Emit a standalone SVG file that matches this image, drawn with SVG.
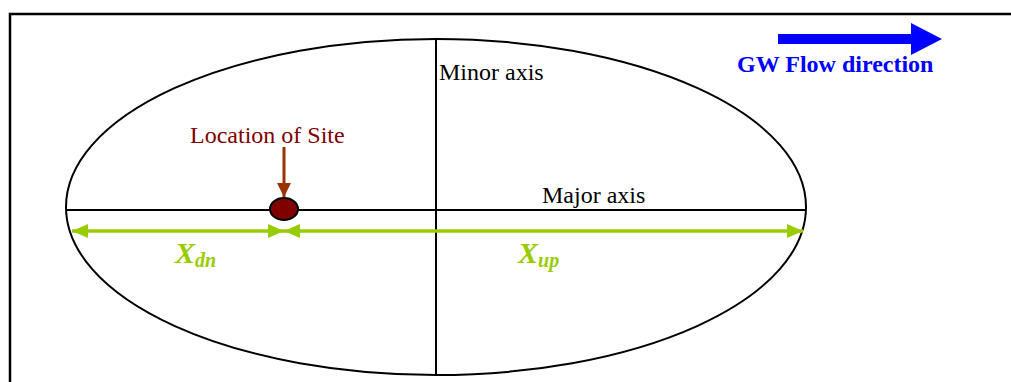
<svg xmlns="http://www.w3.org/2000/svg" width="1011" height="382" viewBox="0 0 1011 382">
<style>
.t{font-family:"Liberation Serif","Times New Roman",serif;font-size:24px;fill:#000}
.site{font-family:"Liberation Serif","Times New Roman",serif;font-size:24px;fill:#800000}
.gw{font-family:"Liberation Serif","Times New Roman",serif;font-size:24px;font-weight:bold;fill:#0000ff}
.lbl{font-family:"Liberation Serif","Times New Roman",serif;font-weight:bold;font-style:italic;fill:#99cc00}
.ax{stroke:#000;stroke-width:2;fill:none}
.dim{stroke:#99cc00;stroke-width:3.5;fill:none}
</style>
<defs>
<marker id="g" viewBox="0 0 16 14" refX="16" refY="7" markerWidth="16" markerHeight="14" markerUnits="userSpaceOnUse" orient="auto-start-reverse"><path d="M0,0 L16,7 L0,14 Z" fill="#99cc00"/></marker>
<marker id="b" viewBox="0 0 14 14" refX="14" refY="7" markerWidth="14" markerHeight="14" markerUnits="userSpaceOnUse" orient="auto"><path d="M0,0 L14,7 L0,14 Z" fill="#993300"/></marker>
</defs>
<rect width="1011" height="382" fill="#fff"/>
<g id="frame"><path d="M10,382 V14 H1011" fill="none" stroke="#000" stroke-width="2.5"/></g>
<g id="ellipse"><ellipse cx="436" cy="207" rx="370" ry="168" class="ax"/></g>
<g id="axes">
<line x1="66" y1="210" x2="806" y2="210" class="ax"/>
<line x1="436" y1="40" x2="436" y2="374" class="ax"/>
</g>
<g id="labels">
<text class="t" x="439" y="80">Minor axis</text>
<text class="t" x="542" y="203">Major axis</text>
</g>
<g id="flow">
<path d="M778,34 H911 V23 L942,39 L911,55 V44 H778 Z" fill="#0000ff"/>
<text class="gw" x="737" y="72">GW Flow direction</text>
</g>
<g id="connectors">
<line x1="72" y1="231" x2="284" y2="231" class="dim" marker-start="url(#g)" marker-end="url(#g)"/>
<line x1="284" y1="231" x2="803" y2="231" class="dim" marker-start="url(#g)" marker-end="url(#g)"/>
<line x1="284" y1="147" x2="284" y2="197" stroke="#993300" stroke-width="3" marker-end="url(#b)"/>
</g>
<g id="site">
<text class="site" x="190" y="143">Location of Site</text>
<ellipse cx="284" cy="209" rx="14" ry="11" fill="#800000" stroke="#000" stroke-width="2"/>
</g>
<g id="dims">
<text class="lbl" x="175" y="263" font-size="30">X<tspan font-size="20" dy="4">dn</tspan></text>
<text class="lbl" x="518" y="263" font-size="30">X<tspan font-size="20" dy="4">up</tspan></text>
</g>
</svg>
